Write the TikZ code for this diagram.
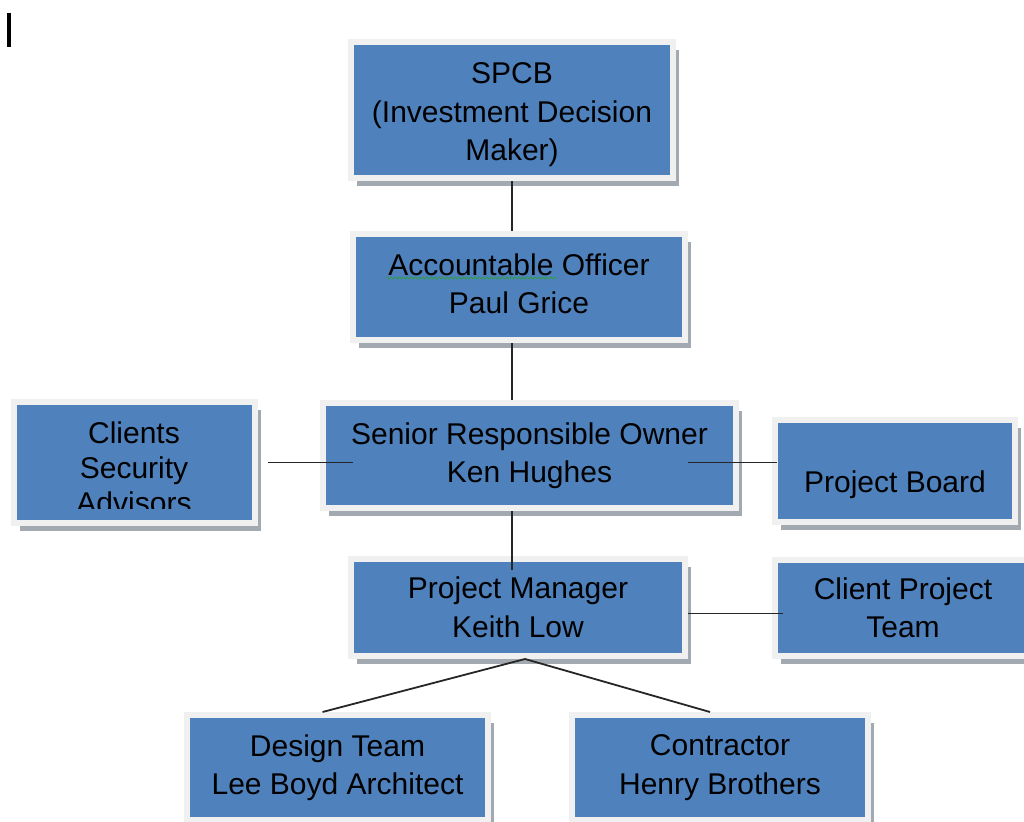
\documentclass[tikz,border=0pt]{standalone}
\usepackage{fontspec}
\setmainfont{Liberation Sans}
\usetikzlibrary{positioning,calc,shadows,decorations.pathmorphing}
\definecolor{boxblue}{HTML}{4F81BD}
\definecolor{rim}{HTML}{F0F0F0}
\definecolor{shade}{HTML}{A3A9B1}
\definecolor{squig}{HTML}{2E9E3A}

\begin{document}
\begin{tikzpicture}[x=1pt,y=-1pt,font=\fontsize{30pt}{38.5pt}\selectfont,
  unit/.style={fill=boxblue,draw=rim,line width=6pt,align=center,inner sep=0pt,
    drop shadow={shadow xshift=6pt,shadow yshift=-8pt,fill=shade,opacity=1}},
  link/.style={draw=black!85,line width=1.8pt}]
\useasboundingbox (0,0) rectangle (1024,821);
% text cursor
\fill (7,13) rectangle (11,47);
% chain of command
\node[unit,minimum width=322pt,minimum height=136pt,text height=108pt,text depth=6.3pt] (spcb) at (512,110) {SPCB\\(Investment Decision\\Maker)};
\node[unit,minimum width=332pt,minimum height=106pt,text depth=7pt] (ao) at (519,287) {Accountable Officer\\Paul Grice};
\draw[squig,line width=0.7pt,decorate,decoration={snake,amplitude=1pt,segment length=4pt}] (386,278) -- (557,278);
\node[unit,minimum width=413pt,minimum height=105pt] (sro) at (529.5,455.5) {Senior Responsible Owner\\Ken Hughes};
\node[unit,minimum width=334pt,minimum height=97pt] (pm) at (518,607.5) {Project Manager\\Keith Low};
% side boxes
\node[unit,minimum width=241pt,minimum height=121pt] (csa) at (134.5,462.5) {};
\begin{scope}
  \clip (17,405) rectangle (252,508);
  \node[align=center,font=\fontsize{30pt}{35pt}\selectfont] (csatext) at (134,468) {Clients\\Security\\Advisors};
\end{scope}
\node[unit,minimum width=240pt,minimum height=102pt,text height=50pt] (pb) at (895,471) {Project Board};
\node[unit,minimum width=256pt,minimum height=96pt] (cpt) at (903,608) {Client Project\\Team};
% teams
\node[unit,minimum width=301pt,minimum height=105pt] (dt) at (337.5,767.5) {Design Team\\Lee Boyd Architect};
\node[unit,minimum width=296pt,minimum height=105pt] (con) at (720,767.5) {Contractor\\Henry Brothers};
% connectors
\draw[link] (spcb.south) -- (spcb.south |- ao.north);
\draw[link] (spcb.south |- ao.south) -- (spcb.south |- sro.north);
\draw[link,shorten >=-14pt] (spcb.south |- sro.south) -- (spcb.south |- pm.north);
\draw[link,shorten <=10pt,shorten >=-33pt] (csa.east) -- (csa.east -| sro.west);
\draw[link,shorten <=-51pt,shorten >=-5pt] (csa.east -| sro.east) -- (csa.east -| pb.west);
\draw[link,shorten >=-11pt] ([yshift=-6pt]pm.east) -- ([yshift=-6pt]pm.east -| cpt.west);
\draw[link] ([xshift=7pt]pm.south) -- ([xshift=-15pt]dt.north);
\draw[link] ([xshift=7pt]pm.south) -- ([xshift=-10pt]con.north);
\end{tikzpicture}
\end{document}
